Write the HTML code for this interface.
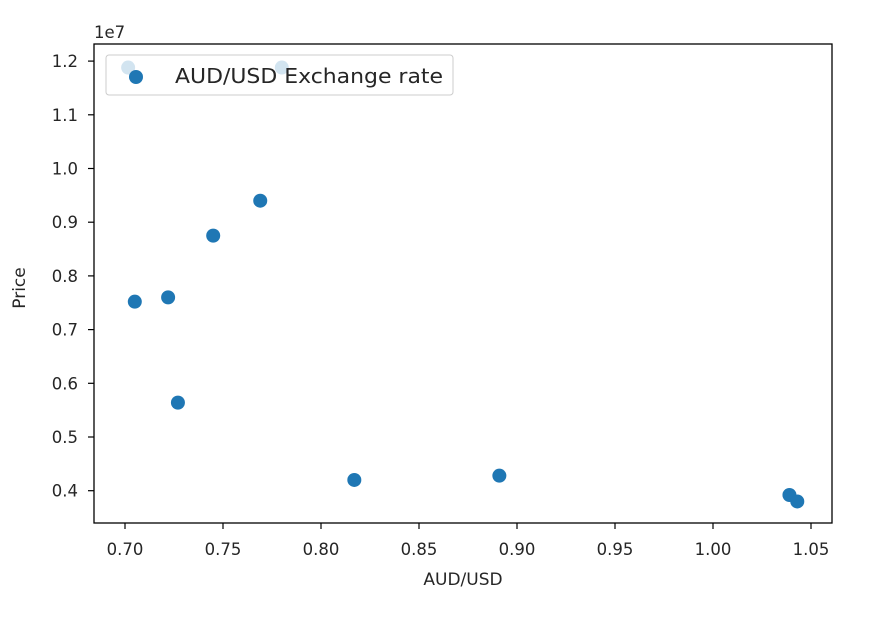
<!DOCTYPE html>
<html><head><meta charset="utf-8"><style>
body{margin:0;background:#fff;}
svg text{font-family:"DejaVu Sans","Liberation Sans",sans-serif;fill:#262626;}
</style></head><body>
<svg width="894" height="616">
<g id="plot"></g>
</svg>
<script>
const xs=[0.7016,0.780,0.705,0.722,0.745,0.769,0.727,0.817,0.891,1.039,1.043];
const ys=[11.88,11.88,7.52,7.6,8.75,9.4,5.64,4.2,4.28,3.92,3.8];
const xTicks=[0.70,0.75,0.80,0.85,0.90,0.95,1.00,1.05];
const yTicks=[0.4,0.5,0.6,0.7,0.8,0.9,1.0,1.1,1.2];
const L=94,R=832,T=44,B=523;
function sx(v){return 125+(v-0.70)/0.05*98;}
function sy(v){return 490.7-(v-0.4)/0.1*53.7;}
const g=document.getElementById('plot');
const NS='http://www.w3.org/2000/svg';
function mk(t,a){const e=document.createElementNS(NS,t);for(const k in a)e.setAttribute(k,a[k]);g.appendChild(e);return e;}
xs.forEach((x,i)=>{const c=mk('circle',{cx:sx(x),cy:sy(ys[i]/10),r:7,fill:'#1f77b4'});

});
const fr=mk('rect',{x:L,y:T,width:R-L,height:B-T,fill:'none',stroke:'#000','stroke-width':1.3});


xTicks.forEach(v=>{const x=sx(v);mk('line',{x1:x,x2:x,y1:B,y2:B+6,stroke:'#000','stroke-width':1.2});
const t=mk('text',{x:x,y:B+32,'text-anchor':'middle','font-size':16.5});t.textContent=v.toFixed(2);

});
yTicks.forEach(v=>{const y=sy(v);mk('line',{x1:L-6,x2:L,y1:y,y2:y,stroke:'#000','stroke-width':1.2});
const t=mk('text',{x:L-16,y:y+6,'text-anchor':'end','font-size':16.5});t.textContent=v.toFixed(1);

});
let t=mk('text',{x:94,y:38,'font-size':16.5});t.textContent='1e7';


t=mk('text',{x:463,y:585,'text-anchor':'middle','font-size':17});t.textContent='AUD/USD';


t=mk('text',{x:25,y:288,'text-anchor':'middle','font-size':17,transform:'rotate(-90 25 288)'});t.textContent='Price';


const lg=mk('rect',{x:106,y:55,width:347,height:40,rx:3,fill:'rgba(255,255,255,0.8)',stroke:'#ccc'});


mk('circle',{cx:136,cy:77,r:7,fill:'#1f77b4'});
t=mk('text',{x:175,y:83,'font-size':20,textLength:268,lengthAdjust:'spacingAndGlyphs'});t.textContent='AUD/USD Exchange rate';


</script>
</body></html>
